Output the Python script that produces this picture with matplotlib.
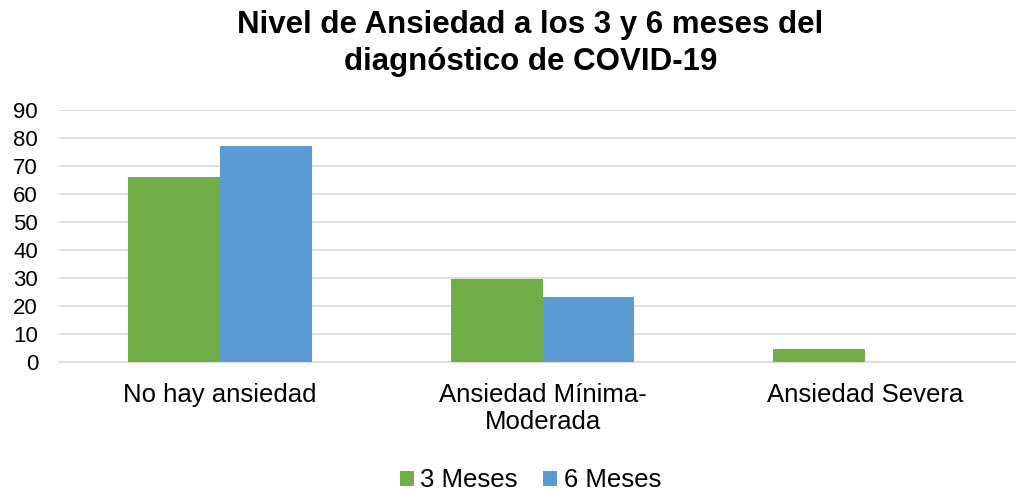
import matplotlib
matplotlib.use("Agg")
import matplotlib.pyplot as plt
import numpy as np

categories = ["No hay ansiedad", "Ansiedad Mínima-\nModerada", "Ansiedad Severa"]
series_names = ["3 Meses", "6 Meses"]
meses3 = [66, 29.5, 4.5]
meses6 = [77, 23, 0]
yticks = [0, 10, 20, 30, 40, 50, 60, 70, 80, 90]
title = "Nivel de Ansiedad a los 3 y 6 meses del\ndiagnóstico de COVID-19"

plt.rcParams['font.family'] = ['Liberation Sans', 'DejaVu Sans']

fig = plt.figure(figsize=(10.16, 4.91), dpi=100)
ax = fig.add_axes([0.058, 0.263, 0.952, 0.513])

x = np.arange(len(categories))
w = 0.285
ax.bar(x - w/2, meses3, w, color="#70AD47", label=series_names[0], zorder=3)
ax.bar(x + w/2, meses6, w, color="#5B9BD5", label=series_names[1], zorder=3)

ax.set_xlim(-0.5, 2.5)
ax.set_ylim(0, 90)
ax.set_yticks(yticks)
ax.set_yticklabels([str(t) for t in yticks], fontsize=16, color="black")
ax.set_xticks(x)
ax.set_xticklabels(categories, fontsize=18.5, color="black", linespacing=1.15)
ax.tick_params(axis="y", length=0, pad=15)
ax.tick_params(axis="x", length=0, pad=15)
ax.grid(axis="y", color="#D9D9D9", linewidth=1.2, zorder=0)
for s in ["top", "right", "left"]:
    ax.spines[s].set_visible(False)
ax.spines["bottom"].set_color("#D9D9D9")
ax.spines["bottom"].set_linewidth(1.2)

fig.suptitle(title, fontsize=22.5, fontweight="bold", x=0.522, y=0.98, linespacing=1.3)

fig.legend(loc="lower center", bbox_to_anchor=(0.522, -0.05), ncol=2, frameon=False,
           fontsize=18.5, handlelength=0.55, handleheight=0.55, handletextpad=0.25,
           columnspacing=1.0, labelcolor="black")

fig.savefig("out.png", dpi=100)
